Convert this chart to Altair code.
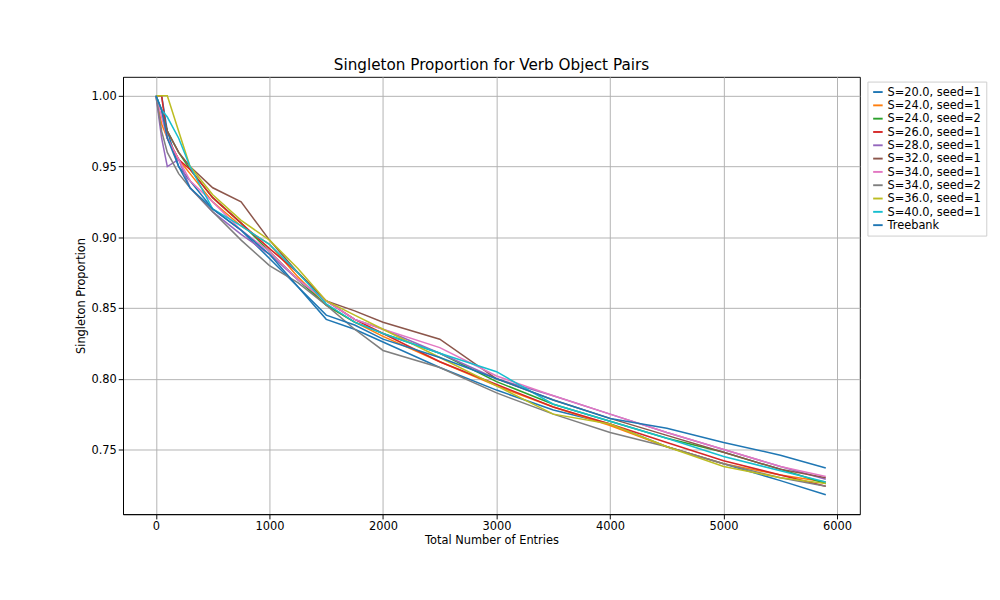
import altair as alt
import pandas as pd

entries = [0, 50, 100, 200, 300, 500, 750, 1000, 1250, 1500, 1750, 2000,
           2500, 3000, 3500, 4000, 4500, 5000, 5500, 5900]

names = ["S=20.0, seed=1", "S=24.0, seed=1", "S=24.0, seed=2", "S=26.0, seed=1",
         "S=28.0, seed=1", "S=32.0, seed=1", "S=34.0, seed=1", "S=34.0, seed=2",
         "S=36.0, seed=1", "S=40.0, seed=1", "Treebank"]

colors = ["#1f77b4", "#ff7f0e", "#2ca02c", "#d62728", "#9467bd", "#8c564b",
          "#e377c2", "#7f7f7f", "#bcbd22", "#17becf", "#1f77b4"]

series = [
    [1.0, 1.0, 0.975, 0.95, 0.94, 0.92, 0.905, 0.885, 0.865, 0.842, 0.835, 0.826, 0.808, 0.792, 0.778, 0.768, 0.752, 0.740, 0.728, 0.718],
    [1.0, 0.98, 0.97, 0.955, 0.945, 0.925, 0.908, 0.895, 0.872, 0.852, 0.84, 0.83, 0.812, 0.795, 0.78, 0.767, 0.752, 0.740, 0.732, 0.727],
    [1.0, 0.99, 0.975, 0.96, 0.948, 0.928, 0.91, 0.89, 0.87, 0.852, 0.84, 0.832, 0.818, 0.798, 0.782, 0.77, 0.758, 0.748, 0.736, 0.726],
    [1.0, 1.0, 0.97, 0.955, 0.948, 0.928, 0.91, 0.892, 0.875, 0.855, 0.842, 0.832, 0.812, 0.796, 0.78, 0.768, 0.755, 0.742, 0.732, 0.724],
    [1.0, 0.97, 0.95, 0.955, 0.935, 0.918, 0.902, 0.888, 0.87, 0.855, 0.842, 0.835, 0.818, 0.80, 0.788, 0.775, 0.762, 0.75, 0.738, 0.729],
    [1.0, 0.99, 0.975, 0.96, 0.95, 0.935, 0.925, 0.898, 0.875, 0.855, 0.848, 0.84, 0.828, 0.80, 0.785, 0.772, 0.76, 0.748, 0.736, 0.73],
    [1.0, 0.985, 0.97, 0.955, 0.94, 0.925, 0.905, 0.89, 0.87, 0.855, 0.842, 0.835, 0.822, 0.802, 0.788, 0.775, 0.762, 0.75, 0.738, 0.731],
    [1.0, 0.975, 0.96, 0.945, 0.935, 0.918, 0.898, 0.88, 0.868, 0.852, 0.835, 0.82, 0.808, 0.79, 0.775, 0.762, 0.752, 0.74, 0.73, 0.724],
    [1.0, 1.0, 1.0, 0.975, 0.95, 0.93, 0.912, 0.898, 0.878, 0.855, 0.845, 0.835, 0.815, 0.795, 0.775, 0.768, 0.752, 0.738, 0.73, 0.726],
    [1.0, 0.99, 0.985, 0.97, 0.95, 0.92, 0.908, 0.895, 0.875, 0.853, 0.84, 0.832, 0.818, 0.805, 0.782, 0.77, 0.758, 0.745, 0.735, 0.727],
    [1.0, 0.99, 0.97, 0.95, 0.935, 0.92, 0.905, 0.888, 0.865, 0.845, 0.838, 0.828, 0.815, 0.80, 0.785, 0.772, 0.765, 0.755, 0.746, 0.737],
]

rows = []
for i, (name, vals) in enumerate(zip(names, series)):
    for x, y in zip(entries, vals):
        rows.append({"entries": x, "prop": y, "series": name, "order": i})
df = pd.DataFrame(rows)

chart = alt.Chart(df).mark_line(strokeWidth=1.6).encode(
    x=alt.X("entries:Q", title="Total Number of Entries",
            scale=alt.Scale(domain=[-290, 6200], nice=False),
            axis=alt.Axis(values=[0, 1000, 2000, 3000, 4000, 5000, 6000], format="d")),
    y=alt.Y("prop:Q", title="Singleton Proportion",
            scale=alt.Scale(domain=[0.7043, 1.0134], nice=False, zero=False),
            axis=alt.Axis(values=[0.75, 0.8, 0.85, 0.9, 0.95, 1.0], format=".2f")),
    color=alt.Color("series:N", sort=names,
                    scale=alt.Scale(domain=names, range=colors),
                    legend=alt.Legend(title=None, orient="none", legendX=783, legendY=5,
                                      symbolType="stroke", symbolStrokeWidth=2,
                                      fillColor="white", strokeColor="#cccccc",
                                      padding=5, labelFontSize=12, labelLimit=200)),
    detail="order:O",
).properties(
    width=775, height=460,
    title=alt.Title("Singleton Proportion for Verb Object Pairs", fontSize=16,
                    fontWeight="normal", font="DejaVu Sans"),
    padding={"left": 70, "top": 38, "right": 5, "bottom": 5},
).configure_axis(
    gridColor="#b0b0b0", gridOpacity=1, domainColor="black", tickColor="black",
    labelFont="DejaVu Sans", titleFont="DejaVu Sans", labelFontSize=12,
    titleFontSize=12, titleFontWeight="normal", labelColor="black",
).configure_legend(labelFont="DejaVu Sans").configure_view(stroke="black")

chart.save("out.html", embed_options={"renderer": "svg", "actions": False})
